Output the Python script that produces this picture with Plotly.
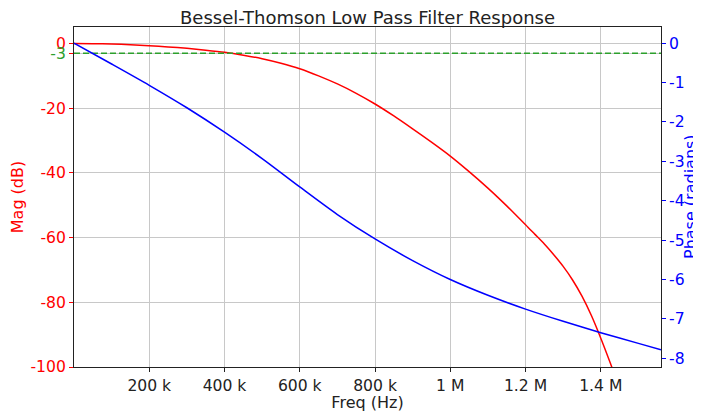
import plotly.graph_objects as go

# ---------------------------------------------------------------
# Valores (frequencia em Hz)
# ---------------------------------------------------------------
freq_mag = [0, 50e3, 100e3, 150e3, 200e3, 250e3, 300e3, 350e3, 400e3, 450e3,
            500e3, 550e3, 600e3, 650e3, 700e3, 750e3, 800e3, 850e3, 900e3,
            950e3, 1.0e6, 1.05e6, 1.1e6, 1.125e6, 1.15e6, 1.175e6, 1.2e6,
            1.225e6, 1.25e6, 1.275e6, 1.3e6, 1.325e6, 1.35e6, 1.375e6,
            1.4e6, 1.425e6, 1.45e6]
mag_db = [0, -0.04, -0.17, -0.38, -0.68, -1.05, -1.5, -2.05, -2.7, -3.6,
          -4.7, -6.1, -7.8, -10.0, -12.5, -15.4, -18.7, -22.4, -26.4,
          -30.5, -34.8, -39.6, -44.7, -47.4, -50.2, -53.1, -56.0,
          -59.0, -62.0, -65.3, -68.9, -73.1, -78.1, -84.1,
          -91.1, -98.7, -106.7]

freq_phase = [0, 100e3, 200e3, 300e3, 400e3, 500e3, 600e3, 700e3, 800e3,
              900e3, 1.0e6, 1.1e6, 1.2e6, 1.3e6, 1.4e6, 1.5e6, 1.56e6]
phase_rad = [0, -0.53, -1.07, -1.64, -2.26, -2.93, -3.65, -4.35, -4.97,
             -5.52, -6.00, -6.40, -6.75, -7.06, -7.35, -7.62, -7.78]

cutoff_x = [0, 1.56e6]
cutoff_db = [-3, -3]

x_ticks = [200e3, 400e3, 600e3, 800e3, 1.0e6, 1.2e6, 1.4e6]
x_labels = ['200 k', '400 k', '600 k', '800 k', '1 M', '1.2 M', '1.4 M']
mag_ticks = [0, -3, -20, -40, -60, -80, -100]
mag_labels = ['0', '<span style="color:#2ca02c">-3</span>', '-20', '-40',
              '-60', '-80', '-100']
phase_ticks = [0, -1, -2, -3, -4, -5, -6, -7, -8]
phase_labels = ['0', '-1', '-2', '-3', '-4', '-5', '-6', '-7', '-8']

#----------------------------------------------------------------
fonte = 'DejaVu Sans'
vermelho = '#ff0000'
azul = '#0000ff'
verde = '#2ca02c'

fig = go.Figure()

fig.add_trace(go.Scatter(x=freq_mag, y=mag_db, mode='lines',
                         line=dict(color=vermelho, width=1.5, shape='spline',
                                   smoothing=0.8),
                         showlegend=False))
fig.add_trace(go.Scatter(x=cutoff_x, y=cutoff_db, mode='lines',
                         line=dict(color=verde, width=1.5, dash='6px,3px'),
                         showlegend=False))
fig.add_trace(go.Scatter(x=freq_phase, y=phase_rad, mode='lines', yaxis='y2',
                         line=dict(color=azul, width=1.5, shape='spline',
                                   smoothing=0.8),
                         showlegend=False))

# titulo do eixo da fase como anotacao (o titulo do eixo fica preso na margem)
fig.add_annotation(text='Phase (radians)', textangle=-90,
                   xref='paper', yref='paper', x=1, y=0.5,
                   xanchor='center', yanchor='middle', xshift=29,
                   showarrow=False, font=dict(size=16, color=azul))

# a pagina html tem margem de 8 px no body -> figura 8 px menor
fig.update_layout(
    width=693, height=404,
    margin=dict(l=66, r=40, t=19, b=45),
    paper_bgcolor='white', plot_bgcolor='white',
    font=dict(family=fonte, size=16, color='#222222'),
    title=dict(text='Bessel-Thomson Low Pass Filter Response',
               x=0.5, xref='paper', xanchor='center',
               y=0.976, yref='container', yanchor='middle',
               font=dict(size=18, color='#222222')),
    xaxis=dict(range=[0, 1.56e6], tickvals=x_ticks, ticktext=x_labels,
               showgrid=True, gridcolor='#c8c8c8', gridwidth=1,
               zeroline=False, showline=True, linecolor='#222222',
               linewidth=1, mirror=True, ticks='outside', ticklen=4,
               tickcolor='#222222', tickfont=dict(size=15.6),
               automargin=False,
               title=dict(text='Freq (Hz)', standoff=4,
                          font=dict(size=16))),
    yaxis=dict(range=[-100, 5.1], tickvals=mag_ticks, ticktext=mag_labels,
               showgrid=True, gridcolor='#c8c8c8', gridwidth=1,
               zeroline=False, showline=True, linecolor='#222222',
               linewidth=1, ticks='outside', ticklen=4, tickcolor=vermelho,
               tickfont=dict(size=15.6, color=vermelho),
               automargin=False,
               title=dict(text='Mag (dB)', standoff=2,
                          font=dict(size=16, color=vermelho))),
    yaxis2=dict(range=[-8.22, 0.41], overlaying='y', side='right',
                tickvals=phase_ticks, ticktext=phase_labels,
                showgrid=False, zeroline=False, showline=True,
                linecolor='#222222', linewidth=1, ticks='outside',
                ticklen=4, tickcolor=azul,
                tickfont=dict(size=15.6, color=azul),
                automargin=False),
)

fig.write_html("out.html")
